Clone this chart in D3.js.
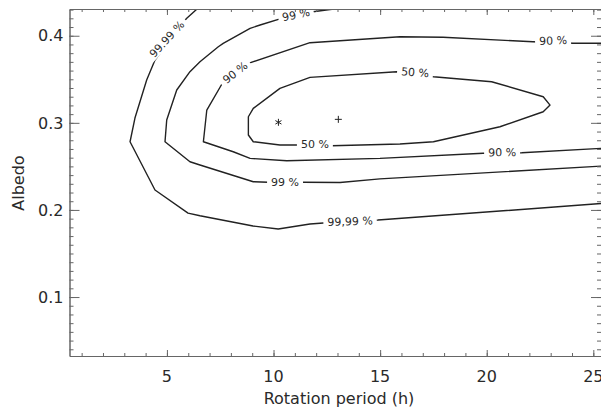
<!DOCTYPE html>
<html><head><meta charset="utf-8">
<script src="https://cdn.jsdelivr.net/npm/d3@7"></script>
<style>body{margin:0;background:#fff}svg{display:block}</style>
</head><body><svg id="c" width="601" height="411"></svg>
<script>
// axis ticks
const xMajorTicks = [5, 10, 15, 20, 25];
const yMajorTicks = [0.1, 0.2, 0.3, 0.4];
const xTitle = "Rotation period (h)";
const yTitle = "Albedo";

// contour polylines: [rotation period (h), albedo]
const contour9999 = [[6.47,0.432],[5.93,0.420],[5.74,0.4149],[4.44,0.3721],[4.05,0.3491],[3.50,0.3055],[3.27,0.2783],[4.44,0.2229],[5.99,0.1964],[6.55,0.1933],[9.04,0.1815],[10.22,0.1781],[11.71,0.1838],[13.59,0.1873],[14.90,0.1884],[25.4,0.2074]];
const contour99 = [[13.26,0.432],[11.85,0.4276],[10.38,0.4200],[9.37,0.4123],[8.90,0.4085],[7.64,0.3913],[7.41,0.3874],[6.55,0.3701],[6.08,0.3587],[5.46,0.3377],[4.99,0.3032],[4.91,0.2783],[6.08,0.2553],[6.55,0.2516],[9.05,0.2324],[9.74,0.2318],[11.38,0.2318],[13.12,0.2315],[14.99,0.2357],[25.4,0.2504]];
const contour90 = [[25.4,0.3913],[24.05,0.3913],[22.17,0.3931],[17.95,0.3982],[15.93,0.3989],[11.71,0.3920],[8.82,0.3683],[7.64,0.3472],[6.87,0.3147],[6.71,0.2783],[8.11,0.2668],[8.90,0.2592],[10.62,0.2565],[14.99,0.2592],[19.83,0.2650],[21.64,0.2657],[25.4,0.2707]];
const contour50 = [[17.50,0.3529],[20.23,0.3472],[22.65,0.3300],[22.97,0.3204],[22.65,0.3127],[20.62,0.2955],[17.50,0.2783],[15.93,0.2757],[12.73,0.2737],[11.24,0.2745],[10.30,0.2745],[9.05,0.2783],[8.82,0.2860],[8.82,0.3070],[9.05,0.3166],[10.30,0.3396],[11.71,0.3522],[15.78,0.3587],[17.50,0.3529]];

// contour labels: [period, albedo, text, angle in degrees]
const contourLabels = [
  [4.99, 0.3962, "99.99 %", -47],
  [11.05, 0.4243, "99 %", -12],
  [8.19, 0.3578, "90 %", -38],
  [23.11, 0.3945, "90 %", -2],
  [16.64, 0.3580, "50 %", 4],
  [11.94, 0.2757, "50 %", 0],
  [10.54, 0.2322, "99 %", 0],
  [20.72, 0.2662, "90 %", -1],
  [13.59, 0.1870, "99,99 %", -2]
];

// markers
const asteriskPoints = [[10.23, 0.3006]];
const plusPoints = [[13.04, 0.3040]];

const L = 69.5, R = 601, T = 9, B = 356;
const x = d3.scaleLinear().domain([0.43, 25.36]).range([L, R]);
const y = d3.scaleLinear().domain([0.0323, 0.4307]).range([B, T]);

const svg = d3.select("#c");
const axisColor = "#666", textColor = "#2a2a2a", lineColor = "#222";

svg.append("defs").append("clipPath").attr("id","clip")
  .append("rect").attr("x",L).attr("y",T).attr("width",R-L).attr("height",B-T);

const plot = svg.append("g").attr("clip-path","url(#clip)");
const line = d3.line().x(d=>x(d[0])).y(d=>y(d[1]));
[contour9999, contour99, contour90, contour50].forEach(c=>{
  plot.append("path").attr("d", line(c)).attr("fill","none")
    .attr("stroke", lineColor).attr("stroke-width",1.4).attr("stroke-linejoin","round");
});

// labels with gaps
contourLabels.forEach(([p,a,t,ang])=>{
  const g = plot.append("g").attr("transform",`translate(${x(p)},${y(a)}) rotate(${ang})`);
  const r = g.append("rect").attr("fill","#fff");
  const tx = g.append("text").text(t).attr("text-anchor","middle").attr("dy","0.36em")
    .attr("font-family","DejaVu Sans").attr("font-size",11).attr("fill",textColor);
  const bb = tx.node().getBBox();
  r.attr("x",bb.x-4).attr("y",-6).attr("width",bb.width+8).attr("height",12);
});

// markers
asteriskPoints.forEach(([p,a])=>{
  const cx=x(p), cy=y(a), s=3.5;
  const g = plot.append("g").attr("stroke",lineColor).attr("stroke-width",1);
  g.append("line").attr("x1",cx).attr("x2",cx).attr("y1",cy-s).attr("y2",cy+s);
  g.append("line").attr("x1",cx-s*0.87).attr("x2",cx+s*0.87).attr("y1",cy-s*0.5).attr("y2",cy+s*0.5);
  g.append("line").attr("x1",cx-s*0.87).attr("x2",cx+s*0.87).attr("y1",cy+s*0.5).attr("y2",cy-s*0.5);
});
plusPoints.forEach(([p,a])=>{
  const cx=x(p), cy=y(a), s=3.5;
  const g = plot.append("g").attr("stroke",lineColor).attr("stroke-width",1);
  g.append("line").attr("x1",cx).attr("x2",cx).attr("y1",cy-s).attr("y2",cy+s);
  g.append("line").attr("x1",cx-s).attr("x2",cx+s).attr("y1",cy).attr("y2",cy);
});

// axes
const xMinor = d3.range(1, 26);
const yMinor = d3.range(4, 44).map(i=>+(i/100).toFixed(2));
function styleAxis(g){
  g.selectAll("path").attr("stroke",axisColor);
  g.selectAll("line").attr("stroke",axisColor);
  g.selectAll("text").remove();
}
svg.append("g").attr("transform",`translate(0,${B})`)
  .call(d3.axisBottom(x).tickValues(xMinor).tickSize(-3).tickSizeOuter(0).tickFormat(""))
  .call(styleAxis);
svg.append("g").attr("transform",`translate(0,${B})`)
  .call(d3.axisBottom(x).tickValues(xMajorTicks).tickSize(-6).tickSizeOuter(0).tickFormat(""))
  .call(styleAxis);
svg.append("g").attr("transform",`translate(0,${T})`)
  .call(d3.axisTop(x).tickValues(xMinor).tickSize(-3).tickSizeOuter(0).tickFormat(""))
  .call(styleAxis);
svg.append("g").attr("transform",`translate(0,${T})`)
  .call(d3.axisTop(x).tickValues(xMajorTicks).tickSize(-6).tickSizeOuter(0).tickFormat(""))
  .call(styleAxis);
svg.append("g").attr("transform",`translate(${L},0)`)
  .call(d3.axisLeft(y).tickValues(yMinor).tickSize(-4).tickSizeOuter(0).tickFormat(""))
  .call(styleAxis);
svg.append("g").attr("transform",`translate(${L},0)`)
  .call(d3.axisLeft(y).tickValues(yMajorTicks).tickSize(-10).tickSizeOuter(0).tickFormat(""))
  .call(styleAxis);
svg.append("g").attr("transform",`translate(${R},0)`)
  .call(d3.axisRight(y).tickValues(yMinor).tickSize(-4).tickSizeOuter(0).tickFormat(""))
  .call(styleAxis);
svg.append("g").attr("transform",`translate(${R},0)`)
  .call(d3.axisRight(y).tickValues(yMajorTicks).tickSize(-10).tickSizeOuter(0).tickFormat(""))
  .call(styleAxis);

// tick labels
svg.append("g").selectAll("text").data(xMajorTicks).join("text")
  .attr("x",d=>x(d)).attr("y",382).attr("text-anchor","middle")
  .attr("font-family","DejaVu Sans").attr("font-size",16).attr("fill",textColor)
  .text(d=>d);
svg.append("g").selectAll("text").data(yMajorTicks).join("text")
  .attr("x",63.5).attr("y",d=>y(d)).attr("dy","0.36em").attr("text-anchor","end")
  .attr("font-family","DejaVu Sans").attr("font-size",16).attr("fill",textColor)
  .text(d=>d.toFixed(1));

// titles
svg.append("text").attr("x",339).attr("y",404).attr("text-anchor","middle")
  .attr("font-family","DejaVu Sans").attr("font-size",16).attr("fill",textColor).text(xTitle);
svg.append("text").attr("transform","translate(24,183) rotate(-90)").attr("text-anchor","middle")
  .attr("font-family","DejaVu Sans").attr("font-size",16).attr("fill",textColor).text(yTitle);
</script></body></html>
